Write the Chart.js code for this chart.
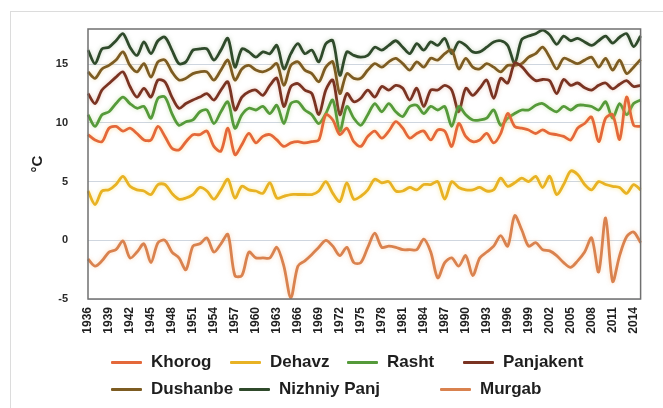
<!DOCTYPE html>
<html><head><meta charset="utf-8">
<script src="https://cdn.jsdelivr.net/npm/chart.js@4.4.0/dist/chart.umd.min.js"></script>
<style>
html,body{margin:0;padding:0;background:#fff;width:663px;height:408px;overflow:hidden;font-family:"Liberation Sans",Arial,sans-serif}
#frame{position:absolute;left:10px;top:11px;width:700px;height:450px;border:1px solid #dcdcdc}
#wrap{position:absolute;left:0;top:0;width:663px;height:408px}
.lg{position:absolute;height:20px;display:flex;align-items:center;font-weight:bold;font-size:17px;color:#1e1e1e;white-space:nowrap}
.lg .ln{display:inline-block;width:31px;height:3px;margin-right:9px;border-radius:1px}
</style></head><body>
<div id="frame"></div>
<div id="wrap"><canvas id="c" width="663" height="408"></canvas></div>
<div id="legend"></div>
<script>
const years = [];
for (let y = 1936; y <= 2015; y++) years.push(String(y));

const khorog = [9.0,8.55,8.4,9.55,9.7,9.3,9.55,9.1,8.55,8.55,9.7,8.85,7.85,7.7,8.4,9.0,9.0,9.3,8.0,7.6,
  9.55,7.3,8.15,9.1,8.3,8.85,9.0,8.55,8.0,8.3,8.4,8.3,8.4,8.55,10.7,10.25,9.0,9.55,8.4,8.0,
  8.85,9.3,8.7,9.3,10.1,9.55,8.7,9.1,9.3,8.55,9.4,9.3,8.0,9.95,8.85,8.4,8.55,9.1,8.3,9.1,
  10.8,9.7,9.55,9.4,9.1,9.4,9.1,9.0,8.85,8.55,9.55,9.95,10.5,8.4,10.4,10.7,8.6,12.2,9.8,9.7];
const dehavz = [4.2,3.05,4.2,4.3,4.75,5.45,4.6,4.3,4.2,3.9,4.75,4.75,4.0,3.5,3.6,3.9,4.5,4.2,3.5,4.3,
  5.2,3.6,4.6,4.3,4.2,4.0,4.9,3.6,3.75,3.9,3.9,3.9,3.9,4.2,5.0,4.0,3.3,4.9,3.5,3.75,
  4.3,5.2,4.9,5.0,4.2,4.2,4.5,4.3,4.75,4.75,5.0,3.5,5.0,4.5,4.3,4.3,4.5,4.2,4.3,5.3,
  4.6,4.9,5.3,5.0,5.45,4.5,5.45,3.9,4.75,5.9,5.6,4.75,4.3,5.0,4.75,4.6,4.5,4.0,4.75,4.3];
const rasht = [10.7,9.7,10.7,10.95,11.65,12.2,11.65,11.25,11.4,10.4,12.1,12.2,10.8,9.8,10.1,10.25,10.95,11.1,9.95,10.95,
  11.8,9.55,10.7,11.25,11.1,11.4,10.8,11.5,9.95,11.65,11.8,11.1,10.7,9.95,10.8,11.95,9.3,11.4,10.4,9.8,
  10.7,11.65,10.95,11.65,10.95,10.55,11.4,11.5,10.8,11.4,11.1,11.4,9.7,11.4,10.7,10.25,10.25,10.4,11.1,9.8,
  10.4,10.8,11.1,11.1,11.5,11.65,11.25,10.95,11.4,11.1,11.5,11.5,11.4,11.1,11.8,10.4,11.65,10.7,11.65,11.95];
const panjakent = [12.5,11.65,12.8,13.35,13.9,14.35,13.1,12.2,12.95,12.2,13.65,13.5,12.2,11.25,11.65,11.95,12.2,12.5,11.95,12.8,
  13.5,11.1,12.2,12.65,12.8,12.35,13.2,13.8,11.4,13.1,13.35,12.8,12.5,10.7,12.8,13.65,10.7,12.5,11.8,12.1,
  12.8,12.2,13.1,12.8,13.2,12.95,11.95,12.95,11.4,12.8,12.8,13.2,12.8,10.95,12.95,12.35,12.95,13.65,12.1,13.8,
  13.4,15.1,14.8,14.1,13.6,13.7,13.6,12.5,13.7,13.2,13.4,13.0,12.8,13.2,13.4,12.9,13.3,13.6,13.1,13.2];
const dushanbe = [14.35,13.8,14.6,14.9,15.35,16.05,14.9,14.35,15.05,13.9,15.2,15.35,14.35,13.65,13.8,14.2,14.35,14.35,13.65,14.5,
  15.35,13.65,14.6,14.9,14.5,14.35,14.6,15.05,13.2,14.9,15.2,14.5,14.2,13.5,14.75,15.2,12.5,14.2,13.8,13.8,
  14.5,15.05,14.75,15.2,15.5,15.05,14.5,15.2,14.75,15.5,15.35,15.9,16.2,14.6,15.5,14.75,14.6,15.05,14.75,14.35,
  14.9,14.9,15.05,15.6,15.9,16.45,15.6,14.6,15.5,15.3,15.05,15.35,15.6,14.75,15.5,14.5,15.35,14.2,14.75,15.4];
const nizhniyPanj = [16.2,15.05,16.3,16.45,17.0,17.6,16.45,15.75,16.9,15.9,17.0,17.3,16.2,15.05,15.2,16.2,16.3,16.3,15.35,16.2,
  17.2,14.75,16.3,16.05,15.6,16.05,15.9,16.6,14.6,15.9,16.75,15.9,16.2,15.2,16.75,17.0,14.05,16.05,15.75,15.6,
  15.75,16.45,16.2,16.6,17.0,16.45,15.9,16.75,16.2,16.9,16.6,17.2,15.9,16.9,16.6,16.05,16.05,16.45,16.9,17.0,
  16.6,15.1,17.1,17.4,17.6,17.9,17.5,16.7,17.4,17.0,17.2,16.9,16.6,17.0,17.4,16.8,17.3,17.6,16.5,17.4];
const murgab = [-1.6,-2.2,-1.75,-1.0,-0.8,-0.05,-1.5,-1.0,-0.3,-1.9,-0.2,0.0,-1.0,-1.5,-2.5,-0.5,-0.3,0.2,-1.0,-0.3,
  0.5,-3.0,-3.0,-1.0,-1.5,-1.5,-1.5,-0.6,-2.2,-4.9,-2.2,-1.75,-1.2,-0.6,0.0,-0.5,-1.3,-0.6,-1.9,-1.9,
  -0.6,0.6,-0.6,-0.5,-0.6,-0.8,-0.8,-0.8,0.1,-1.0,-3.2,-1.9,-1.5,-2.2,-1.3,-3.0,-1.5,-1.0,-0.5,0.4,
  -0.5,2.1,0.9,-0.5,-0.2,-0.8,-0.9,-1.3,-1.9,-2.3,-1.75,-1.0,0.2,-2.7,1.9,-3.5,-1.3,0.3,0.7,-0.2];

const seriesNames = ['Khorog','Dehavz','Rasht','Panjakent','Dushanbe','Nizhniy Panj','Murgab'];
const seriesData = [khorog, dehavz, rasht, panjakent, dushanbe, nizhniyPanj, murgab];
const seriesColors = ['#E4683A','#E8B224','#559A3A','#7A3322','#7D5C22','#2F4A2B','#D9824F'];
const glowColors = ['rgba(245,190,80,0.55)','rgba(245,220,90,0.6)','rgba(160,210,110,0.5)','rgba(200,120,90,0.4)','rgba(220,180,90,0.45)','rgba(120,150,100,0.4)','rgba(245,180,120,0.5)'];
const yTicks = [-5, 0, 5, 10, 15];

const plotFrame = {
  id: 'plotFrame',
  afterDatasetsDraw(chart) {
    const {ctx, chartArea: a} = chart;
    ctx.save();
    ctx.strokeStyle = '#707070';
    ctx.lineWidth = 1.5;
    ctx.strokeRect(a.left, a.top, a.right - a.left, a.bottom - a.top);
    ctx.restore();
  }
};
const glow = {
  id: 'glow',
  beforeDatasetDraw(chart, args) {
    const ds = chart.data.datasets[args.index];
    chart.ctx.save();
    chart.ctx.shadowColor = ds.glowColor;
    chart.ctx.shadowBlur = 4;
  },
  afterDatasetDraw(chart) { chart.ctx.restore(); }
};

new Chart(document.getElementById('c'), {
  type: 'line',
  data: {
    labels: years,
    datasets: seriesNames.map((n, i) => ({
      label: n,
      data: seriesData[i],
      borderColor: seriesColors[i],
      backgroundColor: seriesColors[i],
      glowColor: glowColors[i],
      borderWidth: 2.8,
      pointRadius: 0,
      tension: 0.3,
      fill: false
    }))
  },
  plugins: [plotFrame, glow],
  options: {
    responsive: false,
    animation: false,
    layout: { padding: { left: 0, right: 8, top: 29, bottom: 0 } },
    plugins: { legend: { display: false }, tooltip: { enabled: false } },
    scales: {
      x: {
        grid: { display: false, drawTicks: false },
        border: { display: false },
        afterFit(s) { s.height = 109; },
        ticks: {
          autoSkip: false, maxRotation: 90, minRotation: 90, padding: 8,
          color: '#1e1e1e', font: { family: 'Liberation Sans', size: 12, weight: 'bold' },
          callback(v, i) { return i % 3 === 0 ? years[i] : ''; }
        }
      },
      y: {
        min: -5, max: 18,
        afterBuildTicks(s) { s.ticks = yTicks.map(v => ({ value: v })); },
        afterFit(s) { s.width = 88; },
        grid: { color: '#cfd6df', lineWidth: 1, drawTicks: false },
        border: { display: false },
        ticks: { padding: 20, color: '#2a2a2a', font: { family: 'Liberation Sans', size: 11, weight: 'bold' } },
        title: { display: true, text: '°C', color: '#1e1e1e', padding: { top: 29, bottom: 0 },
          font: { family: 'Liberation Sans', size: 15, weight: 'bold' } }
      }
    }
  }
});

// HTML legend (Excel-style column layout)
const legendLeft = [111, 230, 347, 463, 111, 239, 440];
const legendTop = [352, 352, 352, 352, 379, 379, 379];
const lg = document.getElementById('legend');
seriesNames.forEach((n, i) => {
  const d = document.createElement('div');
  d.className = 'lg';
  d.style.left = legendLeft[i] + 'px';
  d.style.top = legendTop[i] + 'px';
  const ln = document.createElement('span');
  ln.className = 'ln';
  ln.style.background = seriesColors[i];
  d.appendChild(ln);
  d.appendChild(document.createTextNode(n));
  lg.appendChild(d);
});
</script>
</body></html>
